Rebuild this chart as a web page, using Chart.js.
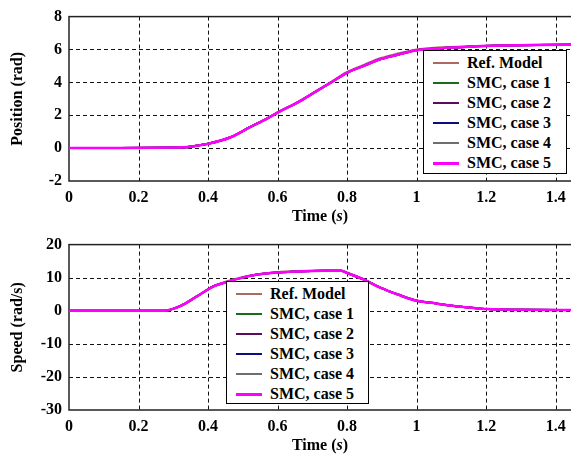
<!DOCTYPE html>
<html>
<head>
<meta charset="utf-8">
<script src="https://cdn.jsdelivr.net/npm/chart.js@4/dist/chart.umd.min.js"></script>
<style>
  html, body { margin: 0; padding: 0; background: #fff; }
  #wrap { position: relative; width: 571px; height: 456px; overflow: hidden; font-family: 'Liberation Serif', 'Times New Roman', serif; }
  .panel { position: absolute; left: 0; width: 580px; height: 228px; }
  .xtitle { position: absolute; left: 0; width: 640px; text-align: center; font-weight: bold; font-size: 16px; line-height: 18px; }
  .legend { position: absolute; background: #fff; border: 1px solid #000; box-sizing: border-box; padding-top: 2px; }
  .legend .row { height: 20px; display: flex; align-items: center; font-weight: bold; font-size: 16px; white-space: nowrap; }
  .legend .swatch { display: inline-block; width: 26px; height: 2px; margin-left: 9px; margin-right: 8px; }
</style>
</head>
<body>
<div id="wrap">
  <div class="panel" style="top:0"><canvas id="posChart" width="580" height="228"></canvas></div>
  <div class="panel" style="top:228px"><canvas id="spdChart" width="580" height="228"></canvas></div>
  <div class="xtitle" style="top:207px">Time (<i>s</i>)</div>
  <div class="xtitle" style="top:436px">Time (<i>s</i>)</div>
  <div class="legend" id="legTop" style="left:423px; top:50px; width:144px; height:124px"></div>
  <div class="legend" id="legBot" style="left:226px; top:281px; width:143px; height:123px"></div>
</div>
<script>
// series names and colours
const seriesNames = ['Ref. Model', 'SMC, case 1', 'SMC, case 2', 'SMC, case 3', 'SMC, case 4', 'SMC, case 5'];
const seriesColors = ['#a86a62', '#1b6b1b', '#5c0c5c', '#0c0c7c', '#6e6e6e', '#ff00ff'];

// ticks
const timeTicks = [0, 0.2, 0.4, 0.6, 0.8, 1, 1.2, 1.4];
const posTicks = [-2, 0, 2, 4, 6, 8];
const spdTicks = [-30, -20, -10, 0, 10, 20];

// position (rad)
const posTime = [0, 0.33, 0.36, 0.40, 0.465, 0.52, 0.57, 0.604, 0.657, 0.705, 0.753, 0.80, 0.85, 0.897, 0.946, 1.0, 1.07, 1.15, 1.25, 1.35, 1.47];
const refPos  = [0, 0.05, 0.13, 0.28, 0.68, 1.28, 1.82, 2.22, 2.80, 3.40, 4.02, 4.63, 5.08, 5.48, 5.75, 6.00, 6.13, 6.20, 6.26, 6.29, 6.31];
const smcPos  = [0, 0.05, 0.12, 0.26, 0.66, 1.27, 1.80, 2.20, 2.77, 3.37, 3.98, 4.58, 5.02, 5.42, 5.68, 5.95, 6.08, 6.17, 6.24, 6.28, 6.30];

// speed (rad/s)
const spdTime = [0, 0.272, 0.32, 0.369, 0.416, 0.455, 0.513, 0.58, 0.657, 0.734, 0.782, 0.80, 0.849, 0.897, 0.946, 1.0, 1.042, 1.09, 1.15, 1.205, 1.3, 1.47];
const refSpd  = [0, 0, 1.5, 4.5, 7.5, 8.9, 10.5, 11.5, 12.0, 12.2, 12.2, 11.6, 9.5, 7.0, 5.0, 3.1, 2.4, 1.7, 1.0, 0.5, 0.3, 0.2];
const smcSpd  = [0, 0, 1.4, 4.4, 7.4, 8.7, 10.4, 11.4, 11.9, 12.1, 12.1, 11.4, 9.4, 6.9, 4.9, 3.0, 2.4, 1.7, 1.0, 0.5, 0.3, 0.2];

const FONT = "'Liberation Serif', 'Times New Roman', serif";

// dashed grid + solid frame, drawn under the lines
const gridPlugin = {
  id: 'dashGrid',
  beforeDatasetsDraw(chart) {
    const a = chart.chartArea, c = chart.ctx;
    const xs = chart.scales.x, ys = chart.scales.y;
    c.save();
    c.strokeStyle = '#111';
    c.lineWidth = 1;
    c.setLineDash([4, 3]);
    c.beginPath();
    xs.ticks.forEach(t => {
      const px = Math.round(xs.getPixelForValue(t.value)) + 0.5;
      if (px <= a.left + 1 || px >= a.right - 1) return;
      c.moveTo(px, a.top); c.lineTo(px, a.bottom);
    });
    ys.ticks.forEach(t => {
      const py = Math.round(ys.getPixelForValue(t.value)) + 0.5;
      if (py <= a.top + 1 || py >= a.bottom - 1) return;
      c.moveTo(a.left, py); c.lineTo(a.right, py);
    });
    c.stroke();
    c.setLineDash([]);
    c.strokeStyle = '#222';
    c.lineWidth = 1.5;
    c.strokeRect(a.left, a.top, a.right - a.left, a.bottom - a.top);
    c.restore();
  }
};

function makeDatasets(t, ref, smc) {
  return seriesNames.map((name, i) => ({
    label: name,
    data: t.map((x, k) => ({ x: x, y: i === 0 ? ref[k] : smc[k] })),
    borderColor: seriesColors[i],
    borderWidth: i === 5 ? 2.5 : 2,
    pointRadius: 0,
    cubicInterpolationMode: 'monotone',
    order: 5 - i,
  }));
}

function makeChart(el, t, ref, smc, yTicks, yTitle, xHeight) {
  return new Chart(el, {
    type: 'line',
    data: { datasets: makeDatasets(t, ref, smc) },
    plugins: [gridPlugin],
    options: {
      responsive: false,
      animation: false,
      layout: { padding: { top: 15, right: 0, left: 0, bottom: 0 } },
      plugins: { legend: { display: false }, tooltip: { enabled: false } },
      scales: {
        x: {
          type: 'linear',
          min: 0,
          max: 1.47,
          afterBuildTicks: (s) => { s.ticks = timeTicks.map(v => ({ value: v })); },
          afterFit: (s) => { s.height = xHeight; },
          grid: { display: false, drawTicks: false, tickLength: 0 },
          border: { display: false },
          ticks: { color: '#000', padding: 7, maxRotation: 0, font: { family: FONT, size: 16, weight: 'bold' },
                   callback: (v) => String(v) },
        },
        y: {
          min: yTicks[0],
          max: yTicks[yTicks.length - 1],
          afterBuildTicks: (s) => { s.ticks = yTicks.map(v => ({ value: v })); },
          afterFit: (s) => { s.width = 69; },
          grid: { display: false, drawTicks: false, tickLength: 0 },
          border: { display: false },
          ticks: { color: '#000', padding: 7, font: { family: FONT, size: 16, weight: 'bold' } },
          title: { display: true, text: yTitle, color: '#000', padding: { top: 8, bottom: 0 },
                   font: { family: FONT, size: 16, weight: 'bold' } },
        },
      },
    },
  });
}

makeChart(document.getElementById('posChart'), posTime, refPos, smcPos, posTicks, 'Position (rad)', 47);
makeChart(document.getElementById('spdChart'), spdTime, refSpd, smcSpd, spdTicks, 'Speed (rad/s)', 46);

function fillLegend(el) {
  seriesNames.forEach((name, i) => {
    const row = document.createElement('div');
    row.className = 'row';
    const sw = document.createElement('span');
    sw.className = 'swatch';
    sw.style.background = seriesColors[i];
    if (i === 5) sw.style.height = '3px';
    row.appendChild(sw);
    row.appendChild(document.createTextNode(name));
    el.appendChild(row);
  });
}
fillLegend(document.getElementById('legTop'));
fillLegend(document.getElementById('legBot'));
</script>
</body>
</html>
